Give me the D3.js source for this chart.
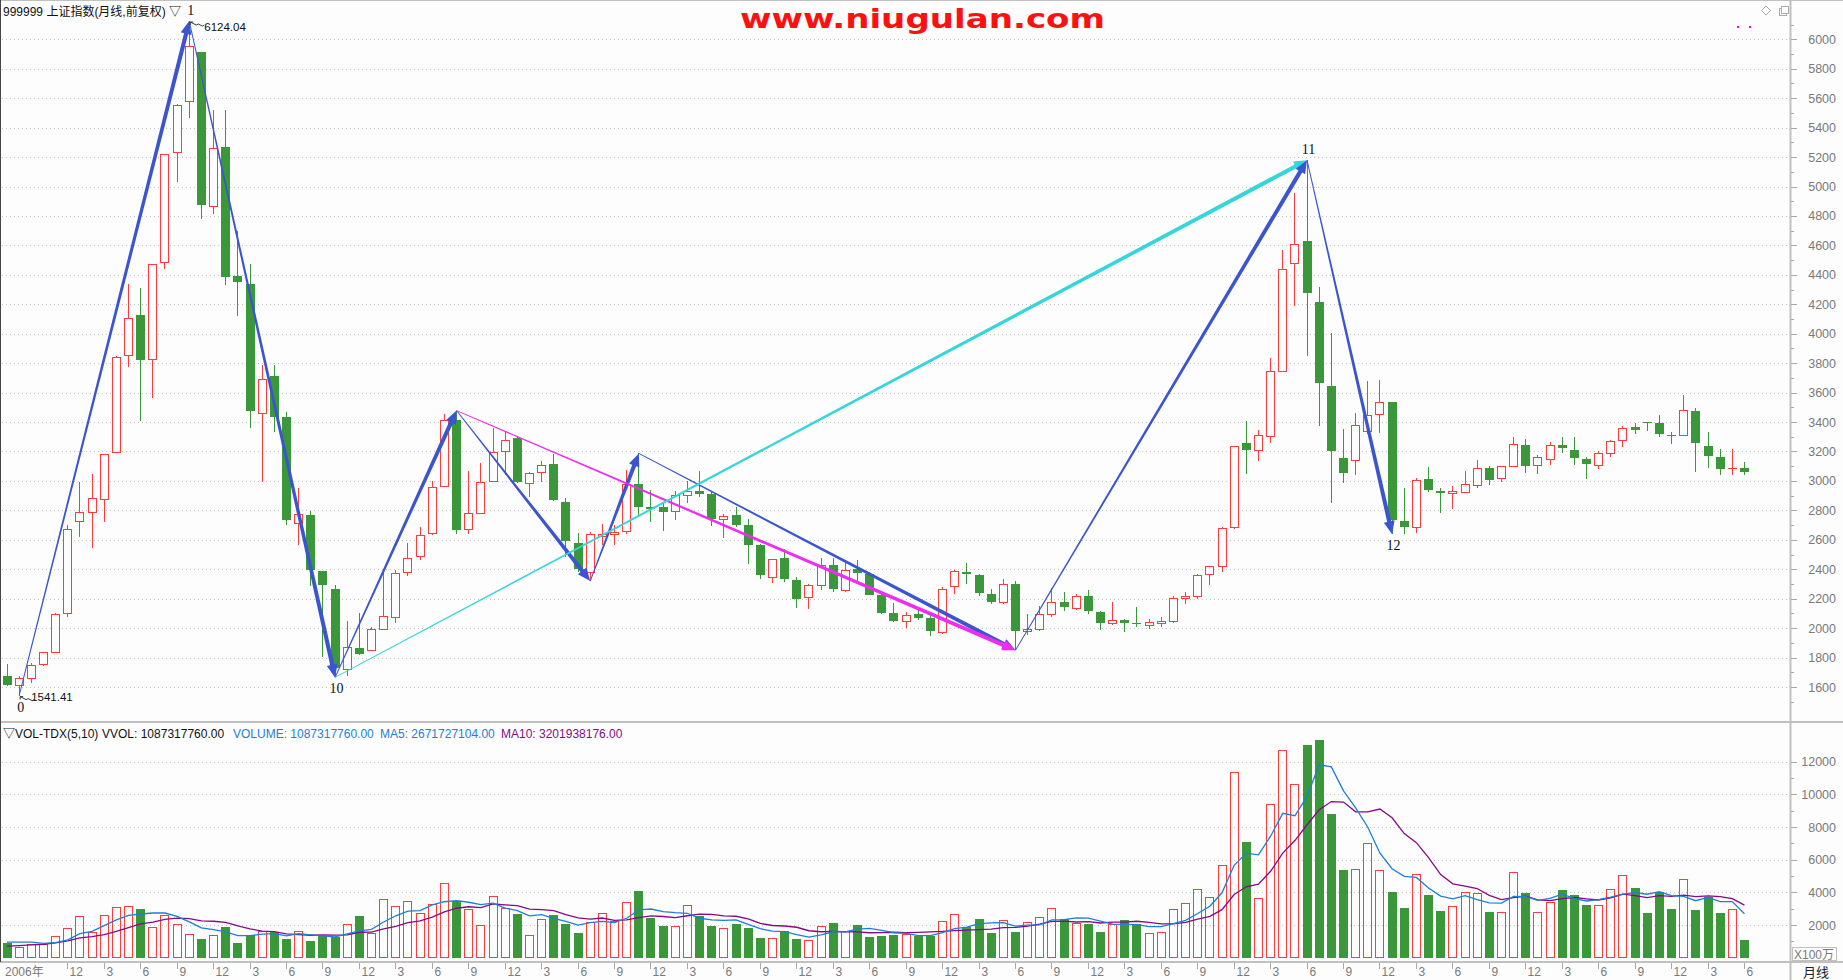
<!DOCTYPE html>
<html><head><meta charset="utf-8">
<script src="https://cdn.jsdelivr.net/npm/d3@7"></script>
<style>body{margin:0;background:#fdfdfd;}svg{display:block}</style>
</head><body><svg id="c" width="1843" height="980"></svg>
<script>
// ---------------- DATA ----------------
const months = [
"2006-07","2006-08","2006-09","2006-10","2006-11","2006-12",
"2007-01","2007-02","2007-03","2007-04","2007-05","2007-06","2007-07","2007-08","2007-09","2007-10","2007-11","2007-12",
"2008-01","2008-02","2008-03","2008-04","2008-05","2008-06","2008-07","2008-08","2008-09","2008-10","2008-11","2008-12",
"2009-01","2009-02","2009-03","2009-04","2009-05","2009-06","2009-07","2009-08","2009-09","2009-10","2009-11","2009-12",
"2010-01","2010-02","2010-03","2010-04","2010-05","2010-06","2010-07","2010-08","2010-09","2010-10","2010-11","2010-12",
"2011-01","2011-02","2011-03","2011-04","2011-05","2011-06","2011-07","2011-08","2011-09","2011-10","2011-11","2011-12",
"2012-01","2012-02","2012-03","2012-04","2012-05","2012-06","2012-07","2012-08","2012-09","2012-10","2012-11","2012-12",
"2013-01","2013-02","2013-03","2013-04","2013-05","2013-06","2013-07","2013-08","2013-09","2013-10","2013-11","2013-12",
"2014-01","2014-02","2014-03","2014-04","2014-05","2014-06","2014-07","2014-08","2014-09","2014-10","2014-11","2014-12",
"2015-01","2015-02","2015-03","2015-04","2015-05","2015-06","2015-07","2015-08","2015-09","2015-10","2015-11","2015-12",
"2016-01","2016-02","2016-03","2016-04","2016-05","2016-06","2016-07","2016-08","2016-09","2016-10","2016-11","2016-12",
"2017-01","2017-02","2017-03","2017-04","2017-05","2017-06","2017-07","2017-08","2017-09","2017-10","2017-11","2017-12",
"2018-01","2018-02","2018-03","2018-04","2018-05","2018-06"];

const open = [
1672,1611,1658,1754,1838,2102,
2728,2786,2877,3196,3852,4130,3830,4486,5237,5583,5915,4869,
5265,4395,4337,3463,3713,3431,2714,2770,2388,2267,1719,1863,
1849,1995,2075,2384,2491,2645,2965,3416,2672,2780,2998,3201,
3289,2987,3060,3114,2855,2580,2380,2626,2641,2661,2982,2826,
2825,2799,2906,2932,2911,2743,2767,2703,2567,2344,2473,2325,
2212,2290,2431,2257,2402,2370,2223,2106,2046,2097,2069,1975,
2289,2383,2362,2233,2175,2301,1978,1994,2098,2180,2140,2220,
2112,2032,2057,2032,2022,2037,2050,2204,2217,2365,2425,2690,
3258,3212,3302,3748,4480,4633,4214,3643,3157,3144,3337,3456,
3537,2730,2685,3014,2929,2917,2924,2970,3089,3017,3103,3246,
3105,3149,3247,3213,3146,3106,3187,3276,3367,3403,3393,3310,
3314,3478,3236,3163,3088,3088];
const high = [
1757,1674,1760,1840,2102,2699,
2994,3049,3184,3847,4336,4312,4472,5219,5562,6124.04,5915,5523,
5523,4696,4473,3786,3786,3466,2952,2797,2388,2293,2050,2101,
2007,2402,2396,2579,2688,2997,3454,3478.01,3068,3123,3361,3330,
3306,3062,3135,3181,2885,2646,2655,2705,2703,3073,3186.72,2939,
2854,2933,3001,3067,2931,2774,2826,2743,2571,2470,2536,2348,
2300,2478,2478,2453,2461,2383,2243,2173,2107,2132,2091,2276,
2394,2445,2367,2268,2334,2317,2093,2149,2270,2242,2234,2260,
2113,2177,2063,2146,2061,2073,2221,2248,2365,2425,2684,3239,
3407,3347,3835,4572,4959,5178.19,4317,4006,3356,3459,3678,3685,
3539,2955,3018,3097,2953,2963,3070,3140,3100,3100,3301,3288,
3174,3264,3301,3295,3161,3200,3276,3373,3391,3403,3450,3330,
3587,3495,3334,3220,3219,3128];
const low = [
1610,1541.41,1630,1743,1832,2073,
2617,2541,2723,3196,3771,3404,3563,4440,5032,5462,4778,4812,
4330,4123,3357,2991,3333,2703,2566,2284,1802,1664.93,1678,1814,
1844,1985,2037,2355,2461,2630,2959,2639,2640,2774,2990,3039,
2983,2890,2990,2861,2481,2382,2319.74,2564,2563,2642,2756,2722,
2661,2737,2852,2890,2697,2610,2690,2437,2333,2307,2310,2134,
2132,2262,2242,2243,2318,2223,2098,2040,1998,2057,1949,1959,
2229,2300,2219,2161,2164,1849.65,1951,1982,2074,2117,2123,2098,
1984,2022,1974,2010,1991,2010,2036,2163,2195,2294,2383,2673,
3049,3134,3260,3737,4189,3847,3373,2851,2983,3039,3322,3327,
2638.30,2639,2649,2925,2780,2807,2924,2951,2969,2992,3099,3056,
3044,3111,3190,3105,3016,3079,3164,3233,3317,3340,3301,3254,
3307,3062,3091,3041,3041,3041];
const close = [
1612.73,1658.64,1752.42,1837.99,2099.29,2675.47,
2786.34,2881.07,3183.98,3841.27,4109.65,3820.70,4471.03,5218.83,5552.30,5954.77,4871.78,5261.56,
4383.39,4348.54,3472.71,3693.11,3433.35,2736.10,2775.72,2397.37,2293.78,1728.79,1871.16,1820.81,
1990.66,2082.85,2373.21,2477.57,2632.93,2959.36,3412.06,2667.74,2779.43,2995.85,3195.30,3277.14,
2989.29,3051.94,3109.10,2870.61,2592.15,2398.37,2637.50,2638.80,2655.66,2978.84,2820.18,2808.08,
2790.69,2905.05,2928.11,2911.51,2743.47,2762.08,2701.73,2567.34,2359.22,2468.25,2333.41,2199.42,
2292.61,2428.49,2262.79,2396.32,2372.23,2225.43,2103.63,2047.52,2086.17,2068.88,1980.12,2269.13,
2385.42,2365.59,2236.62,2177.91,2300.59,1979.21,1993.80,2098.38,2174.67,2141.61,2220.50,2115.98,
2033.08,2056.30,2033.31,2026.36,2039.21,2048.33,2201.56,2217.20,2363.87,2420.18,2682.84,3234.68,
3210.36,3310.30,3747.90,4441.66,4611.74,4277.22,3663.73,3205.99,3052.78,3382.56,3445.40,3539.18,
2737.60,2687.98,3003.92,2938.32,2916.62,2929.61,2979.34,3085.49,3004.70,3100.49,3250.03,3103.64,
3159.17,3241.73,3222.51,3154.66,3117.18,3192.43,3273.03,3360.81,3348.94,3393.34,3317.19,3307.17,
3480.83,3259.41,3168.90,3082.23,3091,3061];
// volume, unit: 100万
const volume = [
913,670,832,853,1320,1807,
2538,1563,2598,3086,3147,2984,1868,2598,2050,1441,1157,1380,
1888,913,1400,1624,1563,1157,1624,1035,1320,1238,2050,2558,
1502,3573,3147,3451,2720,3268,4547,3471,2964,1989,3755,3025,
2680,1380,2355,2619,2071,1523,2172,2720,2274,3390,4080,2436,
1949,1929,3207,2558,1949,1807,2071,1827,1218,1198,1644,1157,
1076,1929,2132,1624,2010,1279,1340,1401,1441,1299,1299,2233,
2659,1888,2375,1523,2294,1583,2172,2477,3025,2375,2152,2071,
1583,2071,2314,2071,1502,1563,2964,3329,4182,3695,5704,11368,
7064,3634,9419,12708,10637,13000,13300,8770,5359,5461,7044,5339,
4019,3045,5116,3837,2862,3147,4019,3938,2822,2781,5217,3959,
2781,3390,4121,3837,3228,3207,4182,5034,4263,2741,3999,2984,
4791,2923,3735,2741,2964,1087];
// volumes of the 9 months before the first visible bar (only feed the moving averages)
const volumeBefore = [380,420,430,500,600,670,832,1258,1097];

const priceTicks = [1600,1800,2000,2200,2400,2600,2800,3000,3200,3400,3600,3800,4000,4200,4400,4600,4800,5000,5200,5400,5600,5800,6000];
const volTicks = [2000,4000,6000,8000,10000,12000];
const monthTickLabels = {12:"12",3:"3",6:"6",9:"9"};
const firstLabel = "2006年";

// trend arrows: [fromIndex, fromPrice, toIndex, toPrice, colour key]
const arrows = [
 [1,1541.41,15,6124.04,"blue"],
 [15,6124.04,27,1664.93,"blue"],
 [27,1664.93,37,3478.01,"blue"],
 [37,3478.01,48,2319.74,"blue"],
 [48,2319.74,52,3186.72,"blue"],
 [52,3186.72,83,1849.65,"blue"],
 [37,3478.01,83,1849.65,"magenta"],
 [27,1664.93,107,5178.19,"cyan"],
 [83,1849.65,107,5178.19,"blue"],
 [107,5178.19,114,2638.30,"blue"]
];
// wave labels: [index, price, text, position]
const waveLabels = [[1,1541.41,"0","below"],[15,6124.04,"1","above"],[27,1664.93,"10","below"],[107,5178.19,"11","above"],[114,2638.30,"12","below"]];

// ---------------- DRAW ----------------
const W=1843,H=980;
const UP="#ff3b3b", DN="#3a983a";
const COL={blue:"#3b55cf",magenta:"#f02cf0",cyan:"#35d5dc"};
const FONT="'Liberation Sans',Arial,'Noto Sans CJK SC',sans-serif";
const svg=d3.select("#c").style("font-family",FONT);
svg.append("rect").attr("width",W).attr("height",H).attr("fill","#fdfdfd");

const n=months.length;
const AXX=1790;
const x=d3.scaleLinear().domain([0,n-1]).range([6.5,6.5+12.15*(n-1)]);
const yP=d3.scaleLinear().domain([1600,6000]).range([687,39.3]);
const yV=d3.scaleLinear().domain([0,12000]).range([957.7,761.7]);

// grid lines
const grid=svg.append("g").attr("stroke","#c4c4c4").attr("stroke-dasharray","1,3");
priceTicks.forEach(t=>{const yy=Math.round(yP(t))+0.5;grid.append("line").attr("x1",2).attr("x2",AXX).attr("y1",yy).attr("y2",yy);});
volTicks.forEach(t=>{const yy=Math.round(yV(t))+0.5;grid.append("line").attr("x1",2).attr("x2",AXX).attr("y1",yy).attr("y2",yy);});

// frame
const fr=svg.append("g").attr("stroke","#c0c0c0").attr("fill","none");
fr.append("line").attr("x1",0).attr("x2",W).attr("y1",0.5).attr("y2",0.5);
fr.append("line").attr("x1",0).attr("x2",W).attr("y1",722).attr("y2",722).attr("stroke-width",2);
fr.append("line").attr("x1",0).attr("x2",W).attr("y1",962).attr("y2",962).attr("stroke-width",2);
fr.append("line").attr("x1",AXX+0.5).attr("x2",AXX+0.5).attr("y1",0).attr("y2",H).attr("stroke-width",2);
svg.append("line").attr("x1",0.5).attr("x2",0.5).attr("y1",0).attr("y2",962).attr("stroke","#444");

// right axes
function rightAxis(scale,ticks,minorStep,lo,hi){
  const g=svg.append("g");
  for(let v=lo; v<=hi; v+=minorStep){
    const yy=Math.round(scale(v))+0.5;
    const major=ticks.includes(v);
    g.append("line").attr("x1",AXX+1).attr("x2",AXX+(major?7:4)).attr("y1",yy).attr("y2",yy).attr("stroke","#a8a8a8");
  }
  ticks.forEach(t=>g.append("text").attr("x",1836).attr("y",scale(t)).attr("dy","0.36em").attr("text-anchor","end")
     .attr("font-size",12.5).attr("fill","#7a7a7a").text(t));
}
rightAxis(yP,priceTicks,100,1500,6100);
rightAxis(yV,volTicks,1000,1000,12000);
svg.append("rect").attr("x",1792.5).attr("y",947.5).attr("width",44).attr("height",13).attr("fill","none").attr("stroke","#c0c0c0");
svg.append("text").attr("x",1794).attr("y",958.5).attr("font-size",12).attr("fill","#7a7a7a").text("X100万");

// candles
const cg=svg.append("g");
for(let i=0;i<n;i++){
  const cx=Math.round(x(i)), up=close[i]>=open[i];
  const yo=Math.round(yP(open[i])), yc=Math.round(yP(close[i]));
  const yh=Math.round(yP(high[i])), yl=Math.round(yP(low[i]));
  if(up){
    const top=Math.min(yo,yc), bot=Math.max(yo,yc);
    cg.append("line").attr("x1",cx+0.5).attr("x2",cx+0.5).attr("y1",yh).attr("y2",top).attr("stroke",UP);
    cg.append("line").attr("x1",cx+0.5).attr("x2",cx+0.5).attr("y1",bot).attr("y2",yl).attr("stroke",UP);
    if(bot-top<1){cg.append("line").attr("x1",cx-4).attr("x2",cx+5).attr("y1",top+0.5).attr("y2",top+0.5).attr("stroke",UP);}
    else cg.append("rect").attr("x",cx-3.5).attr("y",top+0.5).attr("width",8).attr("height",bot-top).attr("fill","#fdfdfd").attr("stroke",UP);
  } else {
    cg.append("line").attr("x1",cx+0.5).attr("x2",cx+0.5).attr("y1",yh).attr("y2",yl).attr("stroke",DN);
    cg.append("rect").attr("x",cx-4).attr("y",yo).attr("width",9).attr("height",Math.max(1,yc-yo)).attr("fill",DN);
  }
}

// volume bars
const vg=svg.append("g"), base=958;
for(let i=0;i<n;i++){
  const cx=Math.round(x(i)), up=close[i]>=open[i], yy=Math.round(yV(volume[i]));
  if(up) vg.append("rect").attr("x",cx-3.5).attr("y",yy+0.5).attr("width",8).attr("height",base-yy-1).attr("fill","none").attr("stroke",UP);
  else vg.append("rect").attr("x",cx-4).attr("y",yy).attr("width",9).attr("height",base-yy).attr("fill",DN);
}
// moving averages of volume
const allVol=volumeBefore.concat(volume), off=volumeBefore.length;
function ma(p){return volume.map((v,i)=>d3.mean(allVol.slice(Math.max(0,i+off-p+1),i+off+1)));}
const ma5=ma(5), ma10=ma(10);
const ln=d3.line().x((d,i)=>x(i)+0.5).y(d=>yV(d));
svg.append("path").attr("d",ln(ma10)).attr("fill","none").attr("stroke","#860a86").attr("stroke-width",1.3);
svg.append("path").attr("d",ln(ma5)).attr("fill","none").attr("stroke","#1a80d8").attr("stroke-width",1.3);

// arrows
function arrowPts(x0,y0,x1,y1){
  const w0=0.45,w1=2.1,hw=5.5,hl=13;
  const dx=x1-x0,dy=y1-y0,L=Math.hypot(dx,dy),ux=dx/L,uy=dy/L,nx=-uy,ny=ux;
  const bx=x1-ux*hl,by=y1-uy*hl;
  return [[x0+nx*w0,y0+ny*w0],[bx+nx*w1,by+ny*w1],[bx+nx*hw,by+ny*hw],[x1,y1],[bx-nx*hw,by-ny*hw],[bx-nx*w1,by-ny*w1],[x0-nx*w0,y0-ny*w0]];
}
const ag=svg.append("g");
arrows.forEach(a=>{
  const p=arrowPts(x(a[0])+0.5,yP(a[1]),x(a[2])+0.5,yP(a[3]));
  ag.append("path").attr("d","M"+p.map(q=>q.join(",")).join("L")+"Z").attr("fill",COL[a[4]]);
});

// wave labels
waveLabels.forEach(w=>{
  const px=x(w[0])+2, py=yP(w[1]);
  svg.append("text").attr("x",px).attr("y",w[3]==="above"?py-6:py+16).attr("text-anchor","middle")
    .attr("font-family","'Liberation Serif','Times New Roman',serif").attr("font-size",14).attr("fill","#111").text(w[2]);
});
// extreme markers
function extreme(i,val,txt,dx,dy){
  const px=x(i)+0.5, py=yP(val);
  svg.append("path").attr("d",`M${px+1},${py+1}L${px+7},${py+4}M${px+1},${py+1}l0,3M${px+1},${py+1}l3,0M${px+7},${py+4}q2,-2 4,0q2,2 4,0`)
     .attr("fill","none").attr("stroke","#222").attr("stroke-width",0.9);
  svg.append("text").attr("x",px+dx).attr("y",py+dy).attr("font-size",11.5).attr("fill","#111").text(txt);
}
extreme(15,6124.04,"6124.04",15,10);
extreme(1,1541.41,"1541.41",12,5);

// date axis
const dg=svg.append("g");
dg.append("text").attr("x",5).attr("y",976).attr("font-size",12).attr("fill","#7a7a7a").text(firstLabel);
for(let i=4;i<n;i++){
  const m=+months[i].slice(5);
  if(monthTickLabels[m]){
    const cx=Math.round(x(i))+0.5;
    dg.append("line").attr("x1",cx).attr("x2",cx).attr("y1",963).attr("y2",969).attr("stroke","#a8a8a8");
    dg.append("text").attr("x",cx+2).attr("y",976).attr("font-size",12).attr("fill","#7a7a7a").text(monthTickLabels[m]);
  }
}
svg.append("text").attr("x",1803).attr("y",977).attr("font-size",13).attr("fill","#222").text("月线");

// headers
svg.append("text").attr("x",3).attr("y",16).attr("font-size",12).attr("fill","#111").text("999999 上证指数(月线,前复权) ▽");
const hy=737.5;
svg.append("text").attr("x",3).attr("y",hy).attr("font-size",12).attr("fill","#111").text("▽VOL-TDX(5,10)");
svg.append("text").attr("x",102).attr("y",hy).attr("font-size",12).attr("fill","#111").text("VVOL: 1087317760.00");
svg.append("text").attr("x",233).attr("y",hy).attr("font-size",12).attr("fill","#1a80d8").text("VOLUME: 1087317760.00");
svg.append("text").attr("x",380).attr("y",hy).attr("font-size",12).attr("fill","#1a80d8").text("MA5: 2671727104.00");
svg.append("text").attr("x",501).attr("y",hy).attr("font-size",12).attr("fill","#860a86").text("MA10: 3201938176.00");

// watermark
svg.append("text").attr("x",740).attr("y",28).attr("font-size",27).attr("font-weight",900)
  .attr("font-family","'DejaVu Sans','Liberation Sans',sans-serif").attr("fill","#ff1010")
  .attr("textLength",365).attr("lengthAdjust","spacingAndGlyphs").text("www.niugulan.com");

// top-right icons & markers
svg.append("path").attr("d","M1761.5,10.5L1766,6L1770.5,10.5L1766,15Z").attr("fill","none").attr("stroke","#aaa");
svg.append("rect").attr("x",1779.5).attr("y",8.5).attr("width",7).attr("height",7).attr("fill","#fdfdfd").attr("stroke","#aaa");
svg.append("rect").attr("x",1781.5).attr("y",6.5).attr("width",7).attr("height",7).attr("fill","#fdfdfd").attr("stroke","#aaa");
svg.append("rect").attr("x",1737).attr("y",26).attr("width",2).attr("height",2).attr("fill","#f0f");
svg.append("rect").attr("x",1749).attr("y",26).attr("width",2).attr("height",2).attr("fill","#f0f");
</script></body></html>
